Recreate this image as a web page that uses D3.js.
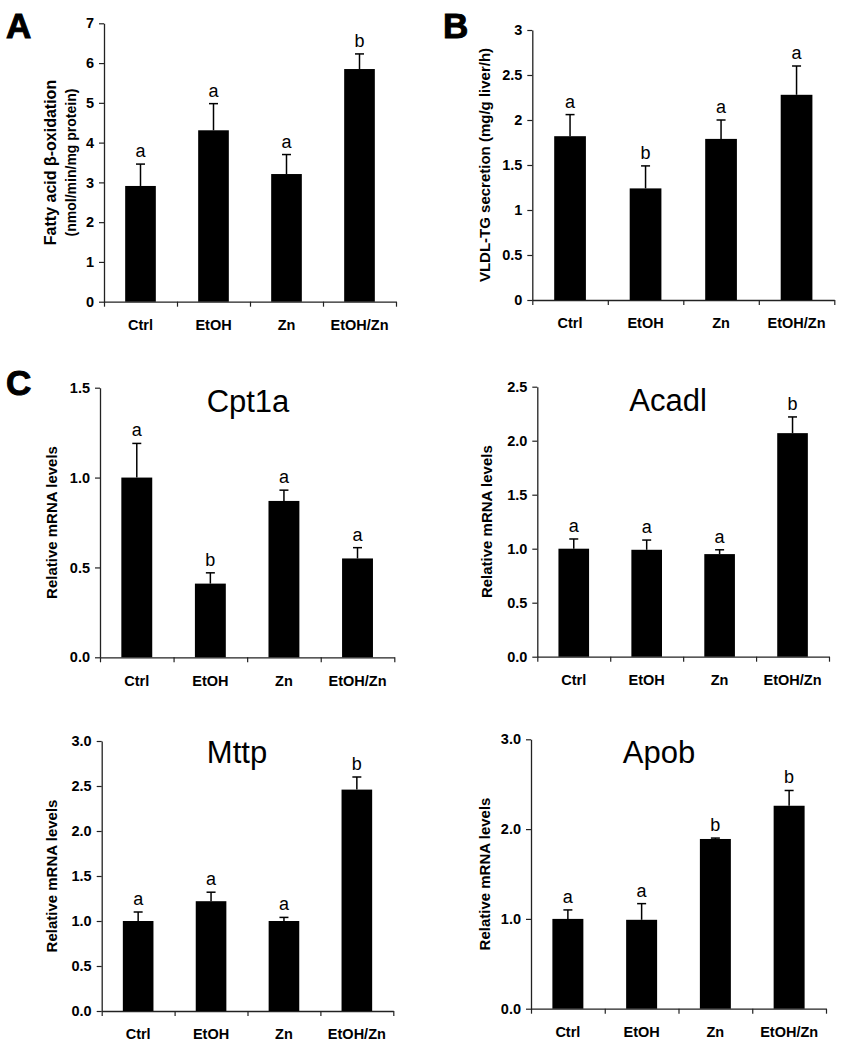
<!DOCTYPE html>
<html>
<head>
<meta charset="utf-8">
<script src="https://cdn.jsdelivr.net/npm/d3@7"></script>
<style>
  html, body { margin: 0; padding: 0; background: #fff; }
  svg { display: block; font-family: "Liberation Sans", Arial, sans-serif; }
</style>
</head>
<body>
<svg id="chart" width="862" height="1050"></svg>
<script>
// ---------- data ----------
const categories = ["Ctrl", "EtOH", "Zn", "EtOH/Zn"];

const fattyAcidMeans = [2.91, 4.31, 3.21, 5.85];
const fattyAcidErr   = [0.55, 0.67, 0.49, 0.38];
const fattyAcidLetters = ["a", "a", "a", "b"];
const fattyAcidTicks = [0, 1, 2, 3, 4, 5, 6, 7];

const vldlMeans = [1.82, 1.24, 1.79, 2.28];
const vldlErr   = [0.24, 0.25, 0.21, 0.32];
const vldlLetters = ["a", "b", "a", "a"];
const vldlTicks = [0, 0.5, 1, 1.5, 2, 2.5, 3];

const cpt1aMeans = [1.00, 0.41, 0.87, 0.55];
const cpt1aErr   = [0.19, 0.06, 0.06, 0.06];
const cpt1aLetters = ["a", "b", "a", "a"];
const cpt1aTicks = [0, 0.5, 1.0, 1.5];

const acadlMeans = [1.00, 0.99, 0.95, 2.07];
const acadlErr   = [0.09, 0.09, 0.04, 0.15];
const acadlLetters = ["a", "a", "a", "b"];
const acadlTicks = [0, 0.5, 1.0, 1.5, 2.0, 2.5];

const mttpMeans = [1.00, 1.22, 1.00, 2.46];
const mttpErr   = [0.10, 0.10, 0.04, 0.14];
const mttpLetters = ["a", "a", "a", "b"];
const mttpTicks = [0, 0.5, 1.0, 1.5, 2.0, 2.5, 3.0];

const apobMeans = [1.00, 0.99, 1.89, 2.26];
const apobErr   = [0.10, 0.18, 0.01, 0.17];
const apobLetters = ["a", "a", "b", "b"];
const apobTicks = [0, 1.0, 2.0, 3.0];

// ---------- layout ----------
const svg = d3.select("#chart");
const FONT = "'Liberation Sans', Arial, sans-serif";
const AXIS_COLOR = "#222";

const panels = [
  { means: fattyAcidMeans, err: fattyAcidErr, letters: fattyAcidLetters, ticks: fattyAcidTicks,
    fmt: d3.format("d"), x0: 104, x1: 396, yTop: 23.3, yBot: 301.7,
    ytitle: [{ text: "Fatty acid β-oxidation", x: 50, size: 16 }, { text: "(nmol/min/mg protein)", x: 71.5, size: 14 }],
    label: { text: "A", x: 6, y: 38 } },
  { means: vldlMeans, err: vldlErr, letters: vldlLetters, ticks: vldlTicks,
    fmt: d3.format("~g"), x0: 532.3, x1: 834.3, yTop: 30, yBot: 300,
    ytitle: [{ text: "VLDL-TG secretion (mg/g liver/h)", x: 485, size: 15 }],
    label: { text: "B", x: 443, y: 38 } },
  { means: cpt1aMeans, err: cpt1aErr, letters: cpt1aLetters, ticks: cpt1aTicks,
    fmt: d3.format(".1f"), x0: 100, x1: 394.3, yTop: 387.7, yBot: 657.3,
    ytitle: [{ text: "Relative mRNA levels", x: 52, size: 15 }],
    title: { text: "Cpt1a", x: 248, y: 412 },
    label: { text: "C", x: 6, y: 395 } },
  { means: acadlMeans, err: acadlErr, letters: acadlLetters, ticks: acadlTicks,
    fmt: d3.format(".1f"), x0: 537.3, x1: 829, yTop: 386.7, yBot: 656.7,
    ytitle: [{ text: "Relative mRNA levels", x: 487, size: 15 }],
    title: { text: "Acadl", x: 668, y: 411 } },
  { means: mttpMeans, err: mttpErr, letters: mttpLetters, ticks: mttpTicks,
    fmt: d3.format(".1f"), x0: 101.7, x1: 393.3, yTop: 741, yBot: 1011,
    ytitle: [{ text: "Relative mRNA levels", x: 52, size: 15 }],
    title: { text: "Mttp", x: 237, y: 763 } },
  { means: apobMeans, err: apobErr, letters: apobLetters, ticks: apobTicks,
    fmt: d3.format(".1f"), x0: 531, x1: 826, yTop: 739.3, yBot: 1008.7,
    ytitle: [{ text: "Relative mRNA levels", x: 485, size: 15 }],
    title: { text: "Apob", x: 659, y: 763 } }
];

panels.forEach(p => drawPanel(p));

function drawPanel(p) {
  const g = svg.append("g");
  const yMax = p.ticks[p.ticks.length - 1];
  const y = d3.scaleLinear().domain([0, yMax]).range([p.yBot, p.yTop]);
  const x = d3.scaleBand().domain(categories).range([p.x0, p.x1])
              .paddingInner(0.58).paddingOuter(0.29);
  const xEdges = d3.scaleLinear().domain([0, categories.length]).range([p.x0, p.x1]);

  // y axis
  const yAxis = g.append("g")
    .attr("transform", `translate(${p.x0},0)`)
    .call(d3.axisLeft(y).tickValues(p.ticks).tickFormat(p.fmt).tickSize(5).tickSizeOuter(0).tickPadding(5));
  yAxis.select(".domain").attr("stroke", AXIS_COLOR).attr("stroke-width", 1.3);
  yAxis.selectAll(".tick line").attr("stroke", AXIS_COLOR).attr("stroke-width", 1.2);
  yAxis.selectAll(".tick text").attr("fill", "#000").attr("font-family", FONT)
       .attr("font-weight", "bold").attr("font-size", 14.5);

  // x axis: boundary ticks
  const xTicks = g.append("g")
    .attr("transform", `translate(0,${p.yBot})`)
    .call(d3.axisBottom(xEdges).tickValues(d3.range(categories.length + 1)).tickFormat("").tickSize(5).tickSizeOuter(0));
  xTicks.select(".domain").attr("stroke", AXIS_COLOR).attr("stroke-width", 1.3);
  xTicks.selectAll(".tick line").attr("stroke", AXIS_COLOR).attr("stroke-width", 1.2);

  // x axis: category labels
  const xLab = g.append("g")
    .attr("transform", `translate(0,${p.yBot})`)
    .call(d3.axisBottom(x).tickSize(0).tickPadding(18));
  xLab.select(".domain").remove();
  xLab.selectAll(".tick text").attr("fill", "#000").attr("font-family", FONT)
      .attr("font-weight", "bold").attr("font-size", 14.5);

  const rows = categories.map((c, i) => ({ c, m: p.means[i], e: p.err[i], l: p.letters[i] }));

  // bars
  g.selectAll("rect.bar").data(rows).join("rect")
    .attr("class", "bar")
    .attr("x", d => x(d.c))
    .attr("width", x.bandwidth())
    .attr("y", d => y(d.m))
    .attr("height", d => p.yBot - y(d.m))
    .attr("fill", "#000");

  // error bars
  const cx = d => x(d.c) + x.bandwidth() / 2;
  g.selectAll("line.err").data(rows).join("line")
    .attr("class", "err")
    .attr("x1", cx).attr("x2", cx)
    .attr("y1", d => y(d.m)).attr("y2", d => y(d.m + d.e))
    .attr("stroke", "#000").attr("stroke-width", 1.5);
  g.selectAll("line.cap").data(rows).join("line")
    .attr("class", "cap")
    .attr("x1", d => cx(d) - 4.5).attr("x2", d => cx(d) + 4.5)
    .attr("y1", d => y(d.m + d.e)).attr("y2", d => y(d.m + d.e))
    .attr("stroke", "#000").attr("stroke-width", 1.5);

  // significance letters
  g.selectAll("text.sig").data(rows).join("text")
    .attr("class", "sig")
    .attr("x", cx)
    .attr("y", d => y(d.m + d.e) - 7)
    .attr("text-anchor", "middle")
    .attr("font-family", FONT)
    .attr("font-size", 18)
    .text(d => d.l);

  // y titles
  const yMid = (p.yTop + p.yBot) / 2;
  p.ytitle.forEach(t => {
    g.append("text")
      .attr("transform", `translate(${t.x},${yMid}) rotate(-90)`)
      .attr("text-anchor", "middle")
      .attr("dy", "0.35em")
      .attr("font-family", FONT)
      .attr("font-weight", "bold")
      .attr("font-size", t.size)
      .text(t.text);
  });

  // gene title
  if (p.title) {
    g.append("text")
      .attr("x", p.title.x).attr("y", p.title.y)
      .attr("text-anchor", "middle")
      .attr("font-family", FONT)
      .attr("font-size", 31)
      .text(p.title.text);
  }

  // panel label
  if (p.label) {
    g.append("text")
      .attr("x", p.label.x).attr("y", p.label.y)
      .attr("font-family", FONT)
      .attr("font-weight", "bold")
      .attr("font-size", 35)
      .attr("stroke", "#000").attr("stroke-width", 1)
      .text(p.label.text);
  }
}
</script>
</body>
</html>
